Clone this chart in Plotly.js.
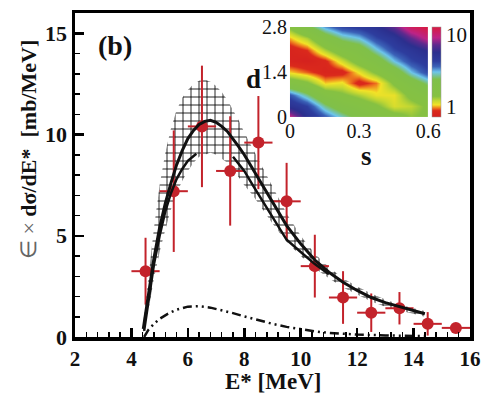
<!DOCTYPE html>
<html><head><meta charset="utf-8">
<script src="https://cdn.plot.ly/plotly-3.0.1.min.js"></script>
<style>html,body{margin:0;padding:0;background:#fff}</style>
</head><body><div id="chart" style="width:481px;height:394px"></div>
<script>
// ---- experimental points ----
const expE    = [4.5, 5.5, 6.5, 7.5, 8.5, 9.5, 10.5, 11.5, 12.5, 13.5, 14.5, 15.5];
const expY    = [3.25, 7.2, 10.4, 8.2, 9.6, 6.7, 3.5, 1.95, 1.2, 1.42, 0.65, 0.45];
const expErrY = [1.65, 3.0, 3.0, 2.7, 2.3, 1.9, 1.55, 1.3, 0.95, 0.8, 0.58, 0.15];
const expErrX = [0.5, 0.5, 0.5, 0.5, 0.5, 0.5, 0.5, 0.5, 0.5, 0.5, 0.5, 0.5];

// ---- total fit curve and its uncertainty band ----
const fitE   = [4.42, 4.6, 4.8, 5.0, 5.2, 5.4, 5.6, 5.8, 6.0, 6.2, 6.4, 6.6, 6.8, 7.0, 7.2, 7.4, 7.6, 7.8, 8.0, 8.3, 8.6, 9.0, 9.5, 10.0, 10.5, 11.0, 11.5, 12.0, 12.5, 13.0, 13.5, 14.0, 14.4];
const fitY   = [0.4, 2.0, 3.9, 5.4, 6.6, 7.6, 8.5, 9.2, 9.8, 10.2, 10.5, 10.65, 10.7, 10.6, 10.4, 10.15, 9.8, 9.4, 9.0, 8.3, 7.6, 6.6, 5.5, 4.6, 3.8, 3.2, 2.7, 2.3, 1.95, 1.7, 1.5, 1.3, 1.15];
const bandHi = [0.7, 2.9, 5.4, 7.5, 9.1, 10.3, 11.2, 11.8, 12.2, 12.5, 12.65, 12.7, 12.6, 12.4, 12.1, 11.7, 11.2, 10.7, 10.1, 9.3, 8.5, 7.4, 6.1, 5.0, 4.1, 3.45, 2.9, 2.5, 2.15, 1.85, 1.6, 1.42, 1.28];
const bandLo = [0.2, 1.3, 2.9, 4.2, 5.3, 6.3, 7.1, 7.7, 8.2, 8.6, 8.9, 9.0, 9.1, 9.0, 8.8, 8.6, 8.3, 7.9, 7.5, 7.0, 6.4, 5.6, 4.7, 4.0, 3.4, 2.9, 2.45, 2.1, 1.75, 1.5, 1.32, 1.15, 1.0];

// ---- second solid curve (partly hidden) ----
const fit2E = [4.45, 4.6, 4.8, 5.0, 5.2, 5.4, 5.6, 5.8, 6.0, 6.3, 6.9, 7.6, 8.0, 8.3, 8.7, 9.0, 9.5, 10.0, 10.5, 11.0];
const fit2Y = [0.3, 1.8, 3.6, 5.0, 6.2, 7.1, 7.8, 8.3, 8.7, 9.05, null, 8.9, 8.2, 7.5, 6.6, 5.9, 4.8, 4.2, 3.6, 3.1];

// ---- dash-dot component ----
const compE = [4.45, 4.6, 4.8, 5.0, 5.3, 5.6, 6.0, 6.4, 6.8, 7.2, 7.6, 8.0, 8.5, 9.0, 9.5, 10.0, 10.5, 11.0, 12.0, 13.0, 14.0, 14.5];
const compY = [0.0, 0.35, 0.65, 0.9, 1.15, 1.35, 1.5, 1.52, 1.45, 1.33, 1.18, 1.02, 0.83, 0.65, 0.5, 0.38, 0.28, 0.2, 0.12, 0.08, 0.05, 0.04];

// ---- inset map: log10 of quality measure on (s, d) grid ----
const mapS = [0, 0.075, 0.15, 0.225, 0.3, 0.375, 0.45, 0.525, 0.6];
const mapD = [0, 0.35, 0.7, 1.05, 1.4, 1.75, 2.1, 2.45, 2.8];
const mapLogZ = [
  [0.99, 0.73, 0.58, 0.46, 0.33, 0.25, 0.20, 0.13, 0.16],
  [0.72, 0.63, 0.42, 0.29, 0.23, 0.16, 0.05, 0.08, 0.16],
  [0.58, 0.42, 0.23, 0.16, 0.10, 0.03, 0.03, 0.18, 0.25],
  [0.23, 0.16, 0.01, 0.03, -0.09, -0.03, 0.16, 0.29, 0.42],
  [0.01, -0.04, -0.10, -0.09, 0.03, 0.16, 0.29, 0.48, 0.61],
  [-0.11, -0.13, -0.08, 0.06, 0.20, 0.29, 0.48, 0.61, 0.68],
  [-0.11, -0.06, 0.10, 0.23, 0.29, 0.46, 0.61, 0.69, 0.78],
  [0.00, 0.10, 0.29, 0.42, 0.48, 0.61, 0.70, 0.86, 0.99],
  [0.16, 0.33, 0.51, 0.61, 0.65, 0.72, 0.86, 1.05, 1.11]
];
const cbTickVals = [0, 1];
const cbTickText = ['1', '10'];

const xTicks = [2, 4, 6, 8, 10, 12, 14, 16];
const yTicks = [0, 5, 10, 15];

const SERIF = 'Liberation Serif, Times New Roman, serif';
const RED = '#c3232b';

const traces = [
  {x: fitE, y: bandLo, mode: 'lines', line: {width: 0, color: 'rgba(0,0,0,0)'}, showlegend: false, hoverinfo: 'skip'},
  {x: fitE, y: bandHi, mode: 'lines', line: {width: 0, color: 'rgba(0,0,0,0)'}, fill: 'tonexty',
   fillcolor: 'rgba(0,0,0,0)',
   fillpattern: {shape: '+', fgcolor: '#000', bgcolor: 'rgba(255,255,255,0)', size: 8, solidity: 0.2},
   showlegend: false, hoverinfo: 'skip'},
  {x: compE, y: compY, mode: 'lines', line: {color: '#111', width: 2.5, dash: '9px,4px,2px,4px,2px,4px'}, showlegend: false},
  {x: expE, y: expY, mode: 'markers',
   marker: {color: RED, size: 12},
   error_y: {type: 'data', array: expErrY, color: RED, thickness: 2, width: 0},
   error_x: {type: 'data', array: expErrX, color: RED, thickness: 2, width: 0},
   showlegend: false},
  {x: fit2E, y: fit2Y, mode: 'lines', line: {color: '#111', width: 2.5}, connectgaps: false, showlegend: false},
  {x: fitE, y: fitY, mode: 'lines', line: {color: '#111', width: 3}, showlegend: false},
  {type: 'heatmap', x: mapS, y: mapD, z: mapLogZ, xaxis: 'x2', yaxis: 'y2', zsmooth: 'best',
   zmin: -0.152, zmax: 1.114,
   colorscale: [
     [0, '#d31f1f'], [0.07, '#db2a1c'], [0.1, '#ef7d1e'], [0.135, '#f3e327'],
     [0.18, '#c4d832'], [0.23, '#86c142'], [0.42, '#80c04a'], [0.5, '#6dc5ec'],
     [0.56, '#3b62b8'], [0.62, '#2d3d9e'], [0.72, '#2c2f8e'], [0.8, '#5e2a8e'],
     [0.88, '#bd2387'], [1, '#d81a40']],
   colorbar: {x: 0.904, xanchor: 'left', xpad: 0, ypad: 0, thickness: 9, len: 0.278, lenmode: 'fraction',
     y: 0.818, yanchor: 'middle', outlinewidth: 0.5, outlinecolor: '#999',
     tickvals: cbTickVals, ticktext: cbTickText, ticks: '',
     tickfont: {family: SERIF, size: 21, color: '#111'}},
   hoverinfo: 'skip'}
];

const layout = {
  width: 481, height: 394,
  margin: {l: 75, r: 11, t: 13, b: 57},
  paper_bgcolor: '#fff', plot_bgcolor: '#fff',
  font: {family: SERIF, color: '#111'},
  showlegend: false,
  xaxis: {
    range: [2, 16], tickvals: xTicks, ticks: 'inside', ticklen: 9, tickwidth: 2.5, tickcolor: '#000',
    minor: {dtick: 0.4, tick0: 2, ticks: 'inside', ticklen: 5, tickwidth: 1.5, tickcolor: '#000'},
    showline: true, linewidth: 3.5, linecolor: '#000', mirror: true, showgrid: false, zeroline: false,
    tickfont: {family: SERIF, size: 21, weight: 'bold', color: '#111'}
  },
  yaxis: {
    range: [0, 16], tickvals: yTicks, ticks: 'inside', ticklen: 9, tickwidth: 2.5, tickcolor: '#000',
    minor: {dtick: 1, tick0: 0, ticks: 'inside', ticklen: 5, tickwidth: 1.5, tickcolor: '#000'},
    showline: true, linewidth: 3.5, linecolor: '#000', mirror: true, showgrid: false, zeroline: false,
    tickfont: {family: SERIF, size: 22, weight: 'bold', color: '#111'}
  },
  xaxis2: {domain: [0.544, 0.894], anchor: 'y2', range: [0, 0.6], tickvals: [0, 0.3, 0.6],
    ticktext: ['0', '0.3', '0.6'], ticks: '', showgrid: false, zeroline: false, showline: false,
    tickfont: {family: SERIF, size: 20, color: '#111'}},
  yaxis2: {domain: [0.679, 0.957], anchor: 'x2', range: [0, 2.8], tickvals: [0, 1.4, 2.8],
    ticktext: ['0', '1.4', '2.8'], ticks: '', showgrid: false, zeroline: false, showline: false,
    ticklabelstandoff: 2,
    tickfont: {family: SERIF, size: 20, color: '#111'}},
  annotations: [
    {text: 'E* [MeV]', xref: 'paper', yref: 'paper', x: 0.5, y: -0.138, xanchor: 'center', yanchor: 'middle',
     showarrow: false, font: {family: SERIF, size: 23, weight: 'bold', color: '#111'}},
    {text: '<span style="font-weight:normal;color:#666">∈ ×</span> dσ/dE*  [mb/MeV]',
     xref: 'paper', yref: 'paper', x: -0.118, y: 0.578, xanchor: 'center', yanchor: 'middle', textangle: -90,
     showarrow: false, font: {family: SERIF, size: 22, weight: 'bold', color: '#111'}},
    {text: '(b)', xref: 'paper', yref: 'paper', x: 0.101, y: 0.9, xanchor: 'center', yanchor: 'middle',
     showarrow: false, font: {family: SERIF, size: 28, weight: 'bold', color: '#111'}},
    {text: 'd', xref: 'paper', yref: 'paper', x: 0.453, y: 0.795, xanchor: 'center', yanchor: 'middle',
     showarrow: false, font: {family: SERIF, size: 27, weight: 'bold', color: '#111'}},
    {text: 's', xref: 'paper', yref: 'paper', x: 0.739, y: 0.56, xanchor: 'center', yanchor: 'middle',
     showarrow: false, font: {family: SERIF, size: 27, weight: 'bold', color: '#111'}}
  ]
};

Plotly.newPlot('chart', traces, layout, {displayModeBar: false, staticPlot: true});
</script></body></html>
